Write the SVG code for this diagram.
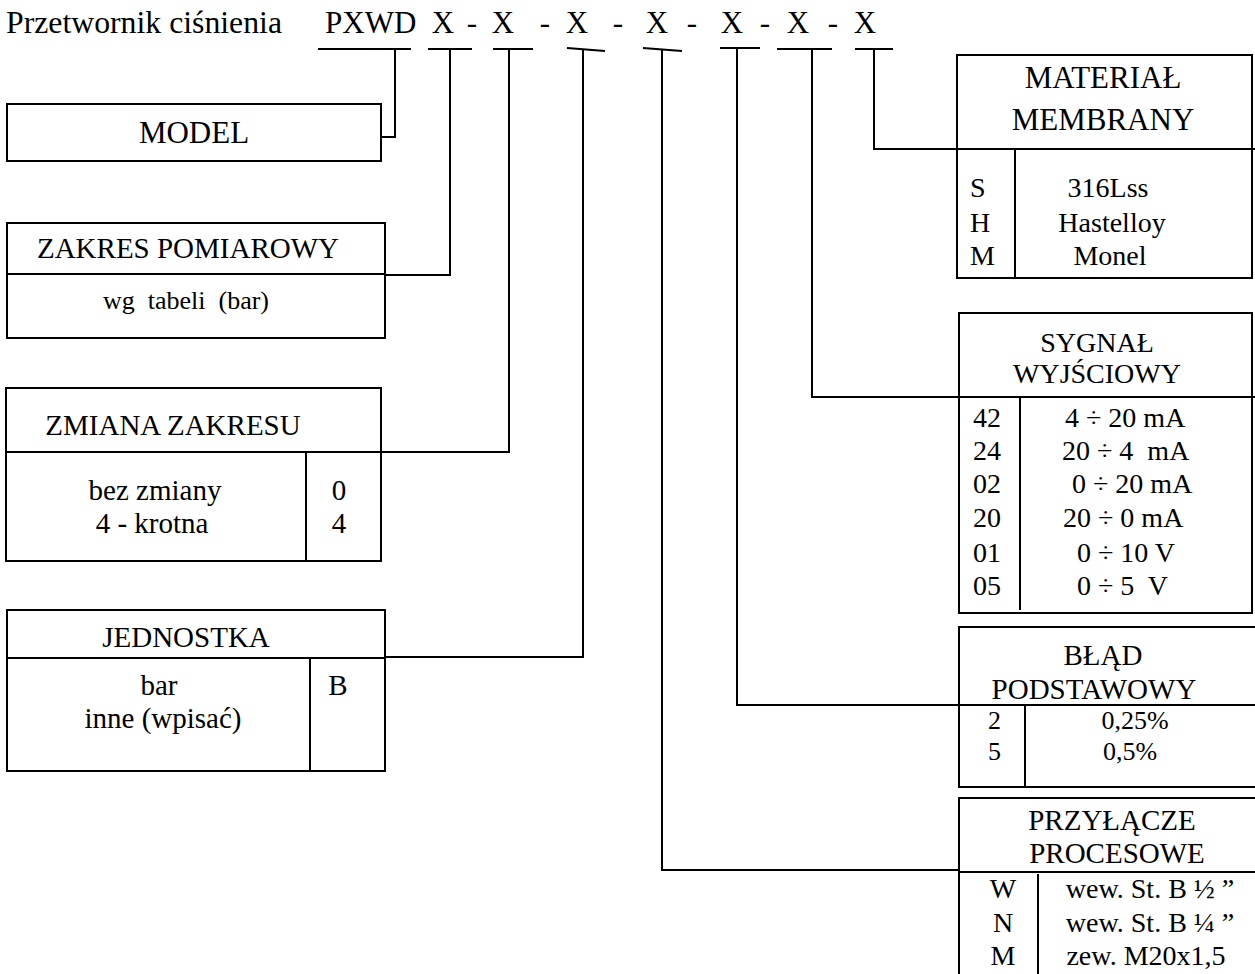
<svg xmlns="http://www.w3.org/2000/svg" width="1255" height="974" viewBox="0 0 1255 974">
<style>
text { font-family: "Liberation Serif", "Times New Roman", serif; fill: #000; }
.box { fill: none; stroke: #000; stroke-width: 2; }
.ln { fill: none; stroke: #000; stroke-width: 2; }
.mid { text-anchor: middle; }
.s31 { font-size: 31px; }
.s29 { font-size: 29px; }
.s28 { font-size: 28px; }
.s26 { font-size: 26px; }
.pre { white-space: pre; }
</style>
<rect width="1255" height="974" fill="#fff"/>
<g id="title" class="s31">
  <text x="6" y="33" textLength="276" lengthAdjust="spacingAndGlyphs">Przetwornik ciśnienia</text>
  <text x="325" y="33">PXWD</text>
  <text class="mid" x="443" y="33">X</text>
  <text class="mid" x="472" y="33">-</text>
  <text class="mid" x="503" y="33">X</text>
  <text class="mid" x="545" y="33">-</text>
  <text class="mid" x="577" y="33">X</text>
  <text class="mid" x="618" y="33">-</text>
  <text class="mid" x="657" y="33">X</text>
  <text class="mid" x="692" y="33">-</text>
  <text class="mid" x="732" y="33">X</text>
  <text class="mid" x="765" y="33">-</text>
  <text class="mid" x="798" y="33">X</text>
  <text class="mid" x="833" y="33">-</text>
  <text class="mid" x="865" y="33">X</text>
</g>
<g id="connectors">
  <path class="ln" d="M318,49 H411 M428,49 H472 M493,49 H533 M567,48 L605,51 M643,48 L682,51 M720,48 H760 M777,49 H832 M855,49 H893"/>
  <path class="ln" d="M395,49 V137 H381"/>
  <path class="ln" d="M450,49 V275 H385"/>
  <path class="ln" d="M509,49 V452 H381"/>
  <path class="ln" d="M583,49 V657 H385"/>
  <path class="ln" d="M662,50 V870 H959"/>
  <path class="ln" d="M737,48 V705 H959"/>
  <path class="ln" d="M812,49 V397 H959"/>
  <path class="ln" d="M874,49 V149 H957"/>
</g>
<g id="model">
  <rect class="box" x="7" y="104" width="374" height="57"/>
  <text class="mid s31" x="194" y="143">MODEL</text>
</g>
<g id="zakres">
  <rect class="box" x="7" y="223" width="378" height="115"/>
  <line class="ln" x1="7" y1="274" x2="385" y2="274"/>
  <text class="mid s29" x="188" y="258">ZAKRES POMIAROWY</text>
  <text class="mid s26 pre" x="186" y="309" xml:space="preserve">wg  tabeli  (bar)</text>
</g>
<g id="zmiana">
  <rect class="box" x="6" y="388" width="375" height="173"/>
  <line class="ln" x1="6" y1="452" x2="381" y2="452"/>
  <line class="ln" x1="306" y1="452" x2="306" y2="561"/>
  <text class="mid s29" x="173" y="435">ZMIANA ZAKRESU</text>
  <text class="mid s29" x="155" y="500">bez zmiany</text>
  <text class="mid s29" x="152" y="533">4 - krotna</text>
  <text class="mid s29" x="339" y="500">0</text>
  <text class="mid s29" x="339" y="533">4</text>
</g>
<g id="jednostka">
  <rect class="box" x="7" y="610" width="378" height="161"/>
  <line class="ln" x1="7" y1="658" x2="385" y2="658"/>
  <line class="ln" x1="310" y1="658" x2="310" y2="771"/>
  <text class="mid s29" x="186" y="647">JEDNOSTKA</text>
  <text class="mid s29" x="159" y="695">bar</text>
  <text class="mid s29" x="163" y="728">inne (wpisać)</text>
  <text class="mid s29" x="338" y="695">B</text>
</g>
<g id="material">
  <rect class="box" x="957" y="55" width="295" height="223"/>
  <line class="ln" x1="957" y1="149" x2="1255" y2="149"/>
  <line class="ln" x1="1015" y1="149" x2="1015" y2="278"/>
  <text class="mid s31" x="1103" y="88">MATERIAŁ</text>
  <text class="mid s31" x="1103" y="130">MEMBRANY</text>
  <text class="s28" x="970" y="197">S</text>
  <text class="s28" x="970" y="232">H</text>
  <text class="s28" x="970" y="265">M</text>
  <text class="mid s28" x="1108" y="197">316Lss</text>
  <text class="mid s28" x="1112" y="232">Hastelloy</text>
  <text class="mid s28" x="1110" y="265">Monel</text>
</g>
<g id="sygnal">
  <rect class="box" x="959" y="313" width="293" height="300"/>
  <line class="ln" x1="959" y1="397" x2="1255" y2="397"/>
  <line class="ln" x1="1020" y1="397" x2="1020" y2="610"/>
  <text class="mid s28" x="1097" y="352">SYGNAŁ</text>
  <text class="mid s28" x="1097" y="383">WYJŚCIOWY</text>
  <text class="s28" x="973" y="427">42</text>
  <text class="s28" x="973" y="460">24</text>
  <text class="s28" x="973" y="493">02</text>
  <text class="s28" x="973" y="527">20</text>
  <text class="s28" x="973" y="562">01</text>
  <text class="s28" x="973" y="595">05</text>
  <text class="s28 pre" x="1065" y="427" xml:space="preserve">4 ÷ 20 mA</text>
  <text class="s28 pre" x="1062" y="460" xml:space="preserve">20 ÷ 4  mA</text>
  <text class="s28 pre" x="1072" y="493" xml:space="preserve">0 ÷ 20 mA</text>
  <text class="s28 pre" x="1063" y="527" xml:space="preserve">20 ÷ 0 mA</text>
  <text class="s28 pre" x="1077" y="562" xml:space="preserve">0 ÷ 10 V</text>
  <text class="s28 pre" x="1077" y="595" xml:space="preserve">0 ÷ 5  V</text>
</g>
<g id="blad">
  <path class="box" d="M1260,627 H959 V787 H1260"/>
  <line class="ln" x1="959" y1="705" x2="1255" y2="705"/>
  <line class="ln" x1="1025" y1="705" x2="1025" y2="787"/>
  <text class="mid s29" x="1103" y="665">BŁĄD</text>
  <text class="mid s29" x="1094" y="699">PODSTAWOWY</text>
  <text class="s26" x="988" y="729">2</text>
  <text class="s26" x="988" y="760">5</text>
  <text class="mid s26" x="1135" y="729">0,25%</text>
  <text class="mid s26" x="1130" y="760">0,5%</text>
</g>
<g id="przylacze">
  <path class="box" d="M1260,798 H959 V980"/>
  <line class="ln" x1="959" y1="872" x2="1255" y2="872"/>
  <line class="ln" x1="1038" y1="874" x2="1038" y2="974"/>
  <text class="mid s29" x="1112" y="830">PRZYŁĄCZE</text>
  <text class="mid s29" x="1117" y="863">PROCESOWE</text>
  <text class="mid s28" x="1003" y="898">W</text>
  <text class="mid s28" x="1003" y="932">N</text>
  <text class="mid s28" x="1003" y="965">M</text>
  <text class="mid s28" x="1150" y="898">wew. St. B ½ ”</text>
  <text class="mid s28" x="1150" y="932">wew. St. B ¼ ”</text>
  <text class="mid s28" x="1146" y="965">zew. M20x1,5</text>
</g>
</svg>
